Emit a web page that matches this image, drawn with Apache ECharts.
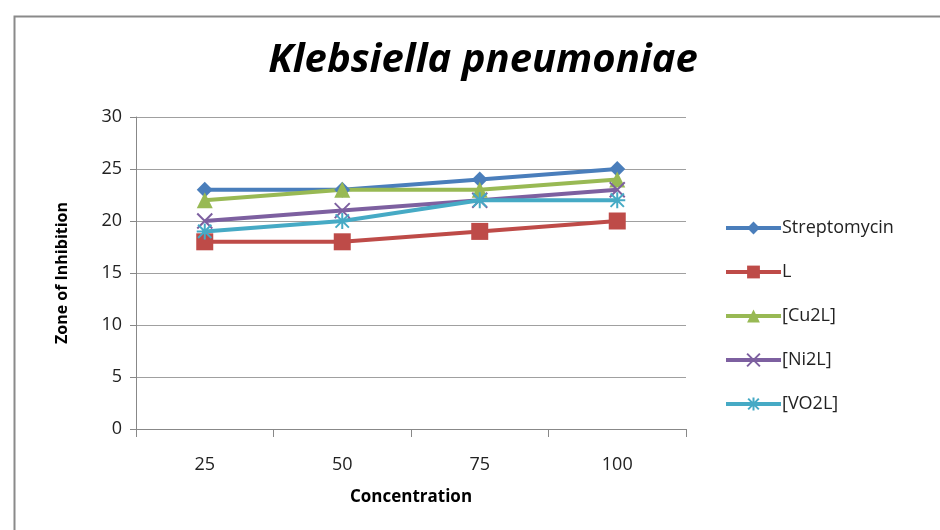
<!DOCTYPE html>
<html>
<head>
<meta charset="utf-8">
<script src="https://cdn.jsdelivr.net/npm/echarts@6/dist/echarts.min.js"></script>
<style>
  html, body { margin: 0; padding: 0; background: #fff; }
  #chart { width: 940px; height: 530px; }
</style>
</head>
<body>
<div id="chart"></div>
<script>
// Zone of inhibition against Klebsiella pneumoniae at each concentration
const concentrations = ['25', '50', '75', '100'];
const streptomycin = [23, 23, 24, 25];
const ligandL = [18, 18, 19, 20];
const cu2L = [22, 23, 23, 24];
const ni2L = [20, 21, 22, 23];
const vo2L = [19, 20, 22, 22];
const yTicks = [0, 5, 10, 15, 20, 25, 30];

const FONT = '"Open Sans", "Liberation Sans", sans-serif';
const crossPath = 'path://M0 0 L10 10 M10 0 L0 10';
const starPath = 'path://M0 0 L10 10 M10 0 L0 10 M5 -1 L5 11 M-1 5 L11 5';

function filled(name, data, color, symbol, size) {
  return {
    name, type: 'line', data,
    symbol, symbolSize: size,
    lineStyle: { color, width: 4 },
    itemStyle: { color },
    emphasis: { disabled: true }
  };
}
function stroked(name, data, color, symbol, size) {
  return {
    name, type: 'line', data,
    symbol, symbolSize: size,
    lineStyle: { color, width: 4 },
    itemStyle: { color: 'rgba(0,0,0,0)', borderColor: color, borderWidth: 2 },
    emphasis: { disabled: true }
  };
}

const chart = echarts.init(document.getElementById('chart'), null, { renderer: 'canvas' });
chart.setOption({
  animation: false,
  backgroundColor: '#fff',
  graphic: [{
    type: 'rect', left: 12, top: 14,
    shape: { width: 940, height: 530 },
    style: { fill: 'none', stroke: '#8a8a8a', lineWidth: 2 }
  }],
  title: {
    text: 'Klebsiella pneumoniae',
    left: 478, top: 36, textAlign: 'center',
    textStyle: { fontFamily: FONT, fontSize: 40, fontWeight: 'bold', fontStyle: 'italic', color: '#000' }
  },
  grid: { left: 136, right: 254, top: 117, bottom: 101 },
  legend: {
    orient: 'vertical', left: 719, top: 214, itemGap: 26,
    itemWidth: 55, itemHeight: 16,
    lineStyle: { width: 4 },
    textStyle: { fontFamily: FONT, fontSize: 18, color: '#222', padding: [0, 0, 0, -4] },
    data: ['Streptomycin', 'L', '[Cu2L]', '[Ni2L]', '[VO2L]']
  },
  xAxis: {
    type: 'category', data: concentrations, boundaryGap: true,
    name: 'Concentration', nameLocation: 'middle', nameGap: 60,
    nameTextStyle: { fontFamily: FONT, fontSize: 17, fontWeight: 'bold', color: '#000' },
    axisLine: { lineStyle: { color: '#888', width: 1 } },
    axisTick: { show: true, length: 8, lineStyle: { color: '#888' } },
    axisLabel: { fontFamily: FONT, fontSize: 18, color: '#222', margin: 27 }
  },
  yAxis: {
    type: 'value', min: yTicks[0], max: yTicks[yTicks.length - 1], interval: 5,
    name: 'Zone of Inhibition', nameLocation: 'middle', nameGap: 66, nameRotate: 90,
    nameTextStyle: { fontFamily: FONT, fontSize: 16, fontWeight: 'bold', color: '#000' },
    axisLine: { show: true, lineStyle: { color: '#888', width: 1 } },
    axisTick: { show: true, length: 6, lineStyle: { color: '#888' } },
    axisLabel: { fontFamily: FONT, fontSize: 18, color: '#222', margin: 14 },
    splitLine: { lineStyle: { color: '#a0a0a0', width: 1 } }
  },
  series: [
    filled('Streptomycin', streptomycin, '#4A7EBB', 'diamond', 16),
    filled('L', ligandL, '#BE4B48', 'rect', 17),
    filled('[Cu2L]', cu2L, '#98B954', 'triangle', 16),
    stroked('[Ni2L]', ni2L, '#7D60A0', crossPath, 15),
    stroked('[VO2L]', vo2L, '#46AAC5', starPath, 16)
  ]
});
</script>
</body>
</html>
